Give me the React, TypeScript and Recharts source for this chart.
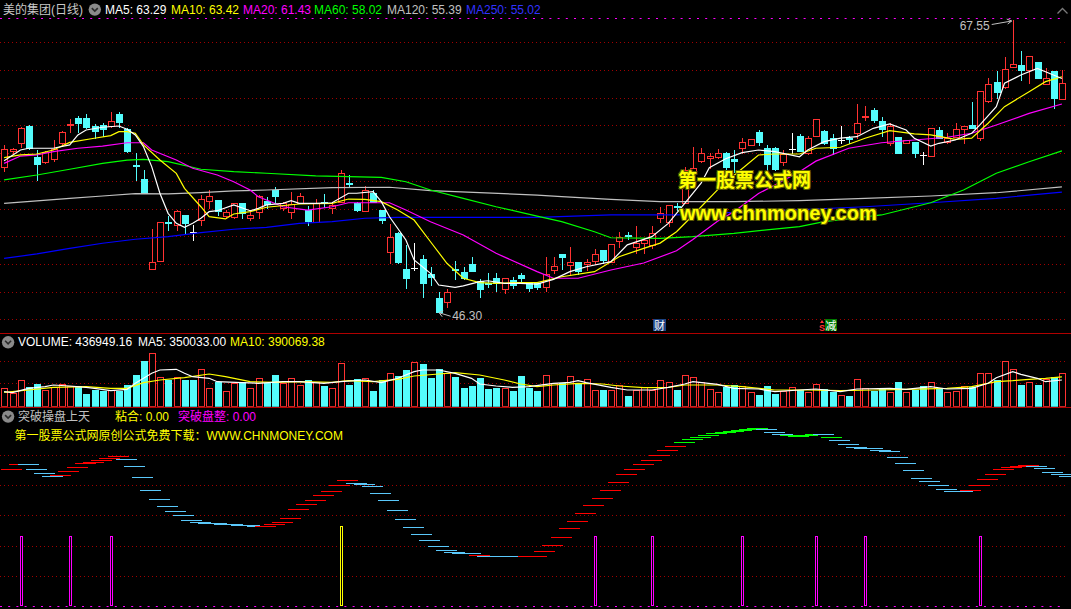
import React from 'react';
import { ComposedChart, Bar, Line, XAxis, YAxis, CartesianGrid } from 'recharts';

const RED = '#ff3232';
const CYAN = '#54fcfc';
const GRID = '#a00000';
const FONT = '"Liberation Sans", "Noto Sans CJK SC", sans-serif';

// ---------------- price candles (daily) ----------------
const opens = [
  56.82, 58.01, 58.57, 59.86, 57.59, 57.23, 57.40, 58.61, 59.93, 60.42,
  60.42, 59.86, 59.91, 59.83, 60.71, 59.60, 56.99, 55.95, 49.39, 50.02,
  52.83, 52.62, 53.35, 52.09, 52.98, 54.39, 54.44, 53.30, 53.19, 54.20,
  53.15, 53.59, 54.37, 55.17, 53.83, 53.54, 54.24, 53.71, 52.86, 54.29,
  53.83, 54.32, 55.68, 54.24, 53.66, 54.97, 53.71, 50.63, 52.06, 49.41,
  49.46, 50.14, 49.05, 47.28, 47.03, 49.38, 49.17, 49.76, 48.56, 48.36,
  48.74, 47.94, 48.61, 48.98, 48.37, 48.37, 48.08, 49.34, 50.49, 49.71,
  49.95, 49.78, 50.00, 50.78, 49.90, 51.48, 51.89, 51.04, 51.33, 51.17,
  53.11, 52.81, 53.98, 54.20, 56.39, 57.30, 57.47, 57.59, 57.84, 57.39,
  58.25, 58.43, 59.42, 58.25, 58.21, 57.18, 58.13, 59.10, 57.84, 59.13,
  59.49, 58.98, 58.81, 58.96, 59.30, 60.46, 61.00, 60.22, 58.57, 59.01,
  58.57, 58.64, 57.72, 57.67, 59.54, 58.64, 59.05, 59.59, 59.91, 58.94,
  61.67, 63.01, 62.69, 64.11, 64.27, 63.91, 64.47, 62.89, 63.84, 61.77,
];
const highs = [
  58.45, 58.25, 59.78, 59.93, 58.08, 58.01, 58.81, 59.47, 60.34, 60.56,
  60.71, 59.96, 60.02, 60.83, 60.83, 59.69, 57.84, 56.63, 52.31, 52.84,
  53.27, 53.71, 53.35, 52.62, 54.80, 55.17, 54.44, 53.71, 54.25, 54.20,
  53.66, 54.80, 54.68, 55.37, 54.32, 55.05, 54.93, 54.00, 54.49, 54.88,
  54.20, 56.63, 56.26, 54.32, 55.46, 55.17, 53.71, 52.69, 52.13, 51.16,
  51.31, 50.43, 49.54, 47.76, 47.94, 50.00, 49.54, 50.27, 48.68, 49.11,
  49.11, 48.74, 48.81, 49.15, 48.37, 48.39, 50.27, 50.27, 50.49, 51.00,
  49.95, 50.12, 50.85, 50.78, 51.24, 52.14, 52.14, 52.53, 51.70, 52.54,
  53.90, 54.05, 54.24, 56.82, 58.28, 58.21, 57.84, 58.13, 57.96, 58.08,
  58.98, 58.88, 59.54, 58.45, 58.33, 58.08, 59.33, 59.25, 59.10, 60.32,
  59.54, 59.25, 59.83, 59.10, 61.41, 61.29, 61.12, 60.51, 60.03, 59.01,
  58.81, 58.64, 57.96, 59.66, 59.78, 59.30, 60.03, 59.83, 61.60, 62.38,
  63.30, 63.84, 64.88, 67.55, 65.29, 64.93, 64.47, 64.03, 63.84, 63.91,
];
const lows = [
  56.58, 57.84, 58.32, 58.13, 55.90, 57.11, 57.30, 58.37, 59.42, 59.39,
  59.67, 58.94, 59.13, 59.74, 59.78, 57.91, 55.90, 54.93, 49.39, 50.02,
  52.26, 52.26, 52.06, 51.53, 52.62, 53.83, 53.35, 53.11, 53.11, 53.15,
  52.98, 53.11, 53.83, 54.32, 53.71, 53.11, 54.20, 52.62, 52.86, 53.95,
  53.47, 54.32, 55.41, 53.66, 53.66, 54.32, 52.74, 49.88, 49.88, 48.03,
  49.34, 47.36, 48.27, 46.30, 46.67, 48.66, 48.66, 49.27, 47.36, 48.12,
  47.84, 47.64, 48.01, 48.56, 47.84, 47.94, 47.81, 49.15, 49.41, 48.98,
  49.05, 49.34, 49.78, 49.83, 49.90, 51.04, 51.60, 50.60, 50.60, 50.93,
  52.86, 52.54, 53.71, 54.20, 56.14, 57.23, 56.75, 57.47, 56.63, 56.50,
  57.84, 58.43, 58.45, 56.63, 56.63, 56.99, 57.84, 58.01, 57.79, 59.13,
  58.52, 57.79, 58.61, 58.57, 58.94, 60.27, 60.14, 59.10, 58.45, 57.89,
  58.57, 57.59, 57.06, 57.67, 58.94, 58.57, 59.01, 58.61, 59.66, 58.81,
  61.60, 61.85, 62.58, 64.11, 63.18, 62.98, 63.30, 62.89, 61.12, 61.77,
];
const closes = [
  58.13, 58.12, 59.67, 58.21, 57.06, 57.91, 58.13, 59.39, 59.98, 60.07,
  59.78, 59.47, 59.60, 60.18, 60.15, 58.03, 56.92, 54.93, 49.95, 52.84,
  52.78, 53.64, 52.74, 52.09, 54.51, 54.73, 53.66, 53.57, 54.20, 53.47,
  53.35, 54.73, 54.15, 54.76, 54.24, 54.13, 54.73, 52.93, 54.20, 54.20,
  54.08, 56.39, 55.61, 53.71, 55.17, 54.32, 52.98, 51.73, 49.95, 48.78,
  49.46, 48.42, 48.85, 46.30, 47.72, 49.31, 48.78, 49.27, 47.94, 48.29,
  48.42, 48.74, 48.25, 48.78, 48.05, 48.12, 49.03, 49.65, 50.31, 49.95,
  49.27, 49.90, 50.49, 50.07, 51.24, 51.77, 51.82, 51.29, 51.53, 52.06,
  53.51, 54.05, 53.93, 56.63, 56.75, 57.84, 57.64, 57.84, 56.82, 57.31,
  58.64, 58.88, 58.64, 57.04, 56.70, 57.79, 58.13, 58.01, 58.94, 60.32,
  58.57, 58.21, 58.81, 58.91, 60.03, 60.54, 60.27, 59.59, 59.86, 57.89,
  58.81, 57.84, 57.72, 59.66, 58.94, 58.98, 59.59, 59.83, 59.66, 62.38,
  62.87, 62.33, 63.96, 64.35, 63.91, 64.93, 63.30, 63.30, 61.85, 62.94,
];

// ---------------- moving averages: [candle index, value] ----------------
const ma5Pts: [number, number][] = [
  [0, 57.30], [2, 58.08], [3, 58.21], [6, 58.21], [8, 58.45], [9, 59.18], [10, 59.54], [12, 59.74], [14, 59.83], [15, 59.59],
  [16, 59.18], [17, 58.32], [18, 56.87], [19, 54.93], [20, 53.47], [21, 52.74], [22, 52.45], [23, 52.74], [24, 53.11], [25, 53.59],
  [26, 53.66], [28, 54.08], [30, 53.66], [31, 53.83], [32, 54.08], [34, 54.20], [35, 54.39], [36, 54.20], [38, 54.20], [40, 54.24],
  [42, 54.93], [43, 54.93], [45, 55.05], [46, 54.32], [47, 53.22], [49, 51.53], [50, 50.07], [52, 49.10], [53, 48.25], [55, 48.08],
  [56, 48.18], [58, 48.49], [59, 48.56], [61, 48.37], [63, 48.37], [65, 48.32], [67, 48.66], [69, 49.22], [71, 49.58], [74, 49.95],
  [76, 51.17], [79, 51.77], [81, 52.74], [83, 54.20], [85, 55.66], [86, 56.80], [88, 57.45], [90, 57.89], [92, 58.08], [94, 57.96],
  [97, 57.59], [98, 58.08], [100, 58.69], [102, 58.94], [104, 59.05], [106, 59.66], [108, 59.98], [110, 59.54], [111, 58.94], [113, 58.37],
  [114, 58.57], [116, 58.81], [118, 59.30], [119, 59.91], [121, 61.24], [122, 62.94], [124, 63.54], [126, 64.03], [127, 63.78], [129, 63.29],
];
const ma10Pts: [number, number][] = [
  [0, 57.52], [2, 57.72], [4, 57.79], [6, 58.08], [8, 58.64], [11, 58.94], [13, 59.13], [14, 59.42], [15, 59.42], [16, 59.30],
  [17, 58.45], [19, 57.35], [21, 56.38], [22, 55.29], [24, 53.95], [25, 53.23], [27, 53.06], [28, 53.42], [30, 53.59], [32, 53.91],
  [36, 54.15], [40, 54.20], [42, 54.51], [44, 54.49], [46, 54.32], [48, 53.71], [50, 52.98], [52, 51.40], [54, 49.83], [56, 48.74],
  [58, 48.42], [60, 48.37], [62, 48.42], [65, 48.42], [68, 48.85], [72, 49.22], [75, 50.31], [78, 50.92], [80, 51.30], [82, 52.13],
  [84, 53.33], [87, 55.18], [89, 56.23], [92, 57.72], [94, 57.79], [97, 57.79], [99, 58.21], [102, 58.28], [105, 58.94], [108, 59.49],
  [111, 59.25], [113, 59.18], [116, 58.86], [118, 58.94], [120, 60.03], [122, 61.24], [125, 62.33], [127, 63.06], [129, 63.42],
];
const ma20Pts: [number, number][] = [
  [0, 57.11], [2, 57.64], [4, 57.72], [6, 57.96], [9, 58.21], [12, 58.37], [15, 58.61], [17, 58.61], [18, 58.08], [21, 57.35],
  [23, 56.75], [26, 56.26], [28, 55.77], [30, 55.17], [31, 54.68], [32, 54.44], [34, 53.95], [37, 53.71], [40, 53.95], [42, 54.24],
  [47, 54.24], [49, 53.71], [52, 52.86], [56, 51.89], [60, 50.56], [65, 49.22], [67, 48.74], [70, 48.74], [74, 49.34], [78, 49.85],
  [82, 50.74], [84, 51.57], [87, 52.89], [89, 53.59], [92, 54.91], [94, 55.53], [97, 56.49], [99, 57.27], [103, 58.21], [107, 58.61],
  [111, 58.81], [115, 59.01], [118, 59.30], [121, 59.90], [125, 60.75], [129, 61.43],
];
const ma60Pts: [number, number][] = [
  [0, 55.90], [4, 56.26], [8, 56.68], [12, 57.11], [15, 57.35], [17, 57.40], [20, 57.23], [24, 56.68], [28, 56.50], [32, 56.39],
  [38, 56.19], [46, 56.09], [49, 55.77], [52, 55.17], [56, 54.56], [60, 53.95], [65, 53.27], [68, 52.86], [72, 52.13], [74, 51.69],
  [80, 51.65], [84, 51.77], [89, 52.01], [93, 52.26], [97, 52.50], [100, 52.86], [107, 53.35], [113, 54.24], [117, 55.17], [121, 56.39],
  [125, 57.23], [129, 58.02],
];
const ma120Pts: [number, number][] = [
  [0, 54.20], [4, 54.37], [8, 54.56], [12, 54.73], [16, 54.90], [20, 54.88], [24, 54.97], [28, 55.10], [32, 55.17], [40, 55.34],
  [47, 55.37], [52, 55.12], [58, 54.97], [65, 54.80], [68, 54.68], [74, 54.49], [80, 54.32], [89, 54.32], [97, 54.39], [105, 54.56],
  [113, 54.73], [121, 54.97], [129, 55.39],
];
const ma250Pts: [number, number][] = [
  [0, 50.19], [4, 50.51], [8, 50.92], [12, 51.29], [16, 51.58], [20, 51.77], [24, 52.06], [28, 52.31], [32, 52.45], [36, 52.74],
  [40, 52.86], [44, 53.11], [48, 53.18], [65, 53.18], [74, 53.35], [82, 53.35], [96, 53.71], [105, 53.95], [113, 54.24], [121, 54.56],
  [129, 55.02],
];

// ---------------- volume ----------------
const volumes = [
  241000, 175500, 349800, 262000, 297400, 218800, 254100, 297400, 275100, 275100,
  166400, 218800, 205700, 218800, 205700, 284300, 415300, 598700, 699500, 393000,
  349800, 393000, 349800, 349800, 489900, 241000, 327500, 209600, 314400, 327500,
  241000, 372000, 306500, 415300, 306500, 379900, 284300, 349800, 319600, 275100,
  241000, 568500, 284300, 358900, 372000, 205700, 349800, 445400, 402200, 480800,
  581600, 559400, 372000, 489900, 445400, 393000, 241000, 271200, 372000, 231900,
  241000, 241000, 205700, 402200, 245000, 200000, 415300, 306500, 306500, 402200,
  297400, 358900, 218800, 218800, 218800, 284300, 140200, 218800, 254100, 218800,
  349800, 327500, 218800, 415300, 385100, 327500, 227900, 188600, 254100, 284300,
  271200, 188600, 153300, 271200, 166400, 205700, 254100, 218800, 196500, 297400,
  227900, 196500, 153300, 140200, 358900, 241000, 205700, 227900, 196500, 327500,
  196500, 218800, 271200, 319600, 241000, 196500, 205700, 271200, 262000, 437500,
  437500, 349800, 598700, 489900, 284300, 319600, 284300, 358900, 385100, 436949.16,
];
const volRed = [
  1, 1, 1, 0, 0, 1, 1, 1, 1, 0,
  0, 0, 0, 1, 0, 0, 0, 0, 1, 1,
  0, 1, 0, 0, 1, 1, 0, 1, 1, 0,
  1, 1, 0, 0, 1, 1, 1, 0, 1, 0,
  1, 1, 0, 0, 1, 0, 0, 1, 0, 0,
  1, 0, 0, 0, 1, 0, 0, 0, 0, 0,
  0, 1, 0, 0, 0, 0, 1, 1, 0, 1,
  0, 1, 1, 0, 1, 1, 0, 1, 1, 1,
  1, 1, 0, 1, 1, 1, 1, 1, 0, 0,
  1, 1, 0, 0, 0, 1, 1, 0, 1, 1,
  0, 0, 1, 0, 1, 1, 0, 0, 1, 0,
  1, 0, 0, 1, 0, 1, 1, 1, 0, 1,
  1, 0, 1, 1, 0, 1, 0, 1, 0, 1,
];
const vma5Pts: [number, number][] = [
  [0, 196500], [1, 183400], [3, 241000], [5, 262000], [6, 284300], [8, 271200], [10, 254100], [11, 241000], [13, 209600], [15, 227900],
  [16, 306500], [18, 437500], [19, 480800], [21, 489900], [22, 437500], [23, 393000], [25, 372000], [26, 327500], [29, 314400], [31, 306500],
  [34, 327500], [36, 327500], [39, 306500], [41, 327500], [44, 349800], [46, 314400], [48, 372000], [50, 458500], [51, 480800], [53, 480800],
  [55, 437500], [57, 372000], [58, 297400], [60, 271200], [62, 254100], [64, 262000], [67, 306500], [69, 319600], [70, 340600], [71, 314400],
  [74, 254100], [76, 218800], [79, 218800], [81, 254100], [83, 297400], [84, 327500], [87, 293400], [89, 241000], [92, 231900], [94, 196500],
  [97, 218800], [99, 231900], [102, 196500], [104, 231900], [108, 241000], [110, 227900], [113, 262000], [115, 231900], [118, 241000], [120, 306500],
  [121, 379900], [123, 458500], [124, 424400], [126, 372000], [127, 327500], [129, 350033],
];
const vma10Pts: [number, number][] = [
  [0, 188600], [3, 218800], [6, 254100], [10, 262000], [13, 241000], [15, 241000], [17, 314400], [19, 349800], [22, 379900], [25, 428400],
  [27, 393000], [30, 327500], [33, 319600], [36, 327500], [40, 319600], [42, 340600], [45, 327500], [48, 358900], [50, 402200], [53, 428400],
  [55, 445400], [58, 415300], [61, 349800], [63, 297400], [65, 262000], [67, 284300], [70, 306500], [73, 297400], [75, 271200], [78, 248900],
  [81, 254100], [83, 284300], [87, 284300], [90, 262000], [94, 218800], [98, 218800], [102, 209600], [106, 218800], [110, 227900], [115, 241000],
  [118, 262000], [121, 327500], [123, 340600], [125, 358900], [127, 372000], [129, 390069],
];

// ---------------- indicator 突破操盘上天 ----------------
const indValues = [
  137.3, 142.0, 142.0, 137.0, 133.0, 130.0, 131.0, 135.0, 139.0, 143.0,
  144.0, 146.0, 148.3, 150.0, 147.3, 140.0, 129.0, 116.0, 107.0, 100.3,
  95.0, 91.0, 86.0, 84.0, 83.6, 83.3, 82.6, 82.0, 81.6, 81.0,
  80.3, 80.6, 82.0, 84.6, 88.6, 97.0, 102.0, 106.0, 111.0, 115.0,
  121.0, 126.0, 123.6, 122.6, 120.3, 113.0, 106.0, 96.0, 87.0, 79.0,
  72.0, 66.0, 60.0, 56.0, 54.3, 53.6, 53.0, 51.6, 50.6, 50.0,
  50.0, 50.0, 50.0, 50.3, 50.3, 55.3, 61.0, 69.0, 78.0, 85.0,
  93.0, 101.0, 108.0, 116.0, 124.0, 132.0, 137.0, 142.0, 146.0, 151.0,
  156.0, 160.0, 164.0, 167.0, 169.0, 171.0, 173.0, 174.0, 175.3, 176.0,
  177.6, 178.6, 177.0, 174.0, 172.0, 171.3, 170.3, 171.3, 172.6, 172.0,
  169.0, 166.0, 162.0, 159.0, 158.3, 158.0, 156.0, 155.0, 149.0, 143.0,
  136.0, 128.0, 125.0, 121.0, 117.0, 115.0, 115.3, 116.0, 121.0, 127.0,
  132.0, 137.0, 139.0, 140.0, 141.0, 140.0, 138.0, 134.0, 132.0, 130.3,
];
const indColorCodes =
  'rrbbbbrrrrrrrrb' + 'bbbbbbbbbbbbbbbb' + 'rrrrrrrrrrr' + 'bbbbbbbbbbbbbbb' + 'r' + 'bbbbb' +
  'rrrrrrrrrrrrrrrrrrr' + 'gggggggggg' + 'bbb' + 'gggg' + 'b' + 'g' + 'bbbbbbbbbbbbbbbb' + 'rrrrrrrr' + 'bbbbb';
const SEG_COLORS: Record<string, string> = { r: '#ff0000', b: '#5ac8fa', g: '#00ff00' };
const stickIdx = [2, 8, 13, 41, 72, 79, 90, 99, 105, 119];
const stickHeights = [70, 70, 70, 80, 70, 70, 70, 70, 70, 70];
const stickColors = ['#ff00ff', '#ff00ff', '#ff00ff', '#ffff00', '#ff00ff', '#ff00ff', '#ff00ff', '#ff00ff', '#ff00ff', '#ff00ff'];

// ---------------- event marks ----------------
const eventIdx = [80, 100];
const eventKinds = ['财', '减'];
const hiIdx = 123;
const loIdx = 53;

const PRICE_DOMAIN: [number, number] = [44.753, 67.696];
const VOL_DOMAIN: [number, number] = [0, 786000];
const IND_DOMAIN: [number, number] = [0, 199.3];

const spread = (pts: [number, number][]) => {
  const a: (number | null)[] = new Array(opens.length).fill(null);
  pts.forEach(([i, v]) => { a[i] = v; });
  return a;
};
const m5 = spread(ma5Pts), m10 = spread(ma10Pts), m20 = spread(ma20Pts), m60 = spread(ma60Pts),
  m120 = spread(ma120Pts), m250 = spread(ma250Pts), v5 = spread(vma5Pts), v10 = spread(vma10Pts);

const rows = opens.map((o, i) => {
  const si = stickIdx.indexOf(i);
  const ei = eventIdx.indexOf(i);
  return {
    i, open: o, high: highs[i], low: lows[i], close: closes[i],
    ma5: m5[i], ma10: m10[i], ma20: m20[i], ma60: m60[i], ma120: m120[i], ma250: m250[i],
    vol: volumes[i], volRed: volRed[i], vma5: v5[i], vma10: v10[i],
    ind: indValues[i], indColor: indColorCodes[i],
    stick: si >= 0 ? stickHeights[si] : null, stickColor: si >= 0 ? stickColors[si] : null,
    evt: ei >= 0 ? PRICE_DOMAIN[0] : null, evtKind: ei >= 0 ? eventKinds[ei] : null,
    hiMark: i === hiIdx ? highs[i] : null,
    loMark: i === loIdx ? lows[i] : null,
  };
});

// ---------------- shapes ----------------
function Candle(props: any) {
  const { x, y, width, height, payload } = props;
  if (!payload || y == null || height == null) return <g />;
  const { open, close, high, low } = payload;
  const c = Math.round(x + width / 2);
  const k = height / Math.max(high - low, 1e-6);
  const py = (v: number) => Math.round(y + (high - v) * k);
  const yH = py(high), yL = py(low), yO = py(open), yC = py(close);
  const wx = c + 0.5;
  if (open === close) {
    return (
      <g shapeRendering="crispEdges">
        <line x1={wx} x2={wx} y1={yH} y2={yL + 1} stroke="#ffffff" />
        <line x1={c - 3} x2={c + 4} y1={yO + 0.5} y2={yO + 0.5} stroke="#ffffff" />
      </g>
    );
  }
  if (close > open) {
    const top = yC;
    const bh = Math.max(yO - yC, 1);
    return (
      <g shapeRendering="crispEdges">
        {yH < top && <line x1={wx} x2={wx} y1={yH} y2={top} stroke={RED} />}
        {yL > top + bh && <line x1={wx} x2={wx} y1={top + bh + 1} y2={yL + 1} stroke={RED} />}
        <rect x={c - 2.5} y={top + 0.5} width={6} height={bh} fill="#000" stroke={RED} />
      </g>
    );
  }
  const top = yO;
  const bh = Math.max(yC - yO, 1);
  return (
    <g shapeRendering="crispEdges">
      <line x1={wx} x2={wx} y1={yH} y2={yL + 1} stroke={CYAN} />
      <rect x={c - 3} y={top} width={7} height={bh + 1} fill={CYAN} />
    </g>
  );
}

function VolBar(props: any) {
  const { x, y, width, height, payload } = props;
  if (!payload || y == null || height == null) return <g />;
  const c = Math.round(x + width / 2);
  const top = Math.round(y);
  const bot = Math.round(y + height);
  if (payload.volRed) {
    return <rect shapeRendering="crispEdges" x={c - 2.5} y={top + 0.5} width={6} height={Math.max(bot - top - 1, 1)} fill="#000" stroke={RED} />;
  }
  return <rect shapeRendering="crispEdges" x={c - 3} y={top} width={7} height={Math.max(bot - top, 1)} fill={CYAN} />;
}

function Stick(props: any) {
  const { x, y, width, height, payload } = props;
  if (!payload || payload.stick == null || y == null) return <g />;
  const c = Math.round(x + width / 2);
  return (
    <rect shapeRendering="crispEdges" x={c - 0.5} y={Math.round(y) + 0.5} width={2}
      height={Math.max(Math.round(height) - 1, 1)} fill="none" stroke={payload.stickColor} />
  );
}

const segDot = (p: any) => {
  const { cx, cy, payload, index } = p;
  if (cy == null || !isFinite(cy)) return <g key={`s${index}`} />;
  const c = Math.round(cx);
  const yy = Math.round(cy) + 0.5;
  return (
    <line key={`s${index}`} shapeRendering="crispEdges" x1={c - 3} x2={c + 18} y1={yy} y2={yy}
      stroke={SEG_COLORS[payload.indColor]} strokeWidth={1} />
  );
};

const hiDot = (p: any) => {
  const { cx, cy, payload, index } = p;
  if (cy == null || payload.hiMark == null) return <g key={`h${index}`} />;
  const x1 = cx - 21, y1 = cy + 4.5, x2 = cx - 1, y2 = cy + 1;
  return (
    <g key={`h${index}`}>
      <line x1={x1} y1={y1} x2={x2} y2={y2} stroke="#c0c0c0" />
      <polyline points={`${x2 - 5},${y2 - 2} ${x2},${y2} ${x2 - 4},${y2 + 3}`} fill="none" stroke="#c0c0c0" />
      <text x={x1 - 2} y={cy + 9.5} textAnchor="end" fill="#c0c0c0" fontSize={12} fontFamily={FONT}>
        {payload.hiMark.toFixed(2)}
      </text>
    </g>
  );
};

const loDot = (p: any) => {
  const { cx, cy, payload, index } = p;
  if (cy == null || payload.loMark == null) return <g key={`l${index}`} />;
  const x1 = cx + 0.5, y1 = cy + 1, x2 = cx + 12, y2 = cy + 4.5;
  return (
    <g key={`l${index}`}>
      <line x1={x1} y1={y1} x2={x2} y2={y2} stroke="#c0c0c0" />
      <polyline points={`${x1 + 4},${y1 - 2} ${x1},${y1} ${x1 + 3},${y1 + 4}`} fill="none" stroke="#c0c0c0" />
      <text x={x2 + 1.5} y={cy + 8.5} textAnchor="start" fill="#c0c0c0" fontSize={12} fontFamily={FONT}>
        {payload.loMark.toFixed(2)}
      </text>
    </g>
  );
};

const evtDot = (p: any) => {
  const { cx, cy, payload, index } = p;
  if (cy == null || payload.evtKind == null) return <g key={`e${index}`} />;
  const c = Math.round(cx);
  const top = Math.round(cy) - 14;
  if (payload.evtKind === '财') {
    return (
      <g key={`e${index}`}>
        <rect x={c - 7} y={top} width={13} height={12} fill="#1d4383" />
        <text x={c - 0.5} y={top + 10.5} textAnchor="middle" fill="#ffffff" fontSize={11}
          fontFamily='"Noto Sans CJK SC", sans-serif'>{payload.evtKind}</text>
      </g>
    );
  }
  return (
    <g key={`e${index}`}>
      <polygon points={`${c - 4},${top + 4} ${c - 2},${top + 1} ${c},${top + 4}`} fill={RED} />
      <text x={c - 2} y={top + 12} textAnchor="middle" fill={RED} fontSize={9} fontWeight={700} fontFamily={FONT}>S</text>
      <rect x={c + 1} y={top} width={12} height={12} fill="#007a00" />
      <text x={c + 7} y={top + 10.5} textAnchor="middle" fill="#ffffff" fontSize={11}
        fontFamily='"Noto Sans CJK SC", sans-serif'>{payload.evtKind}</text>
    </g>
  );
};

const priceGrid = Array.from({ length: 11 }, (_, k) => Math.round(42.3 + 27.7 * k) + 0.5);
const volGrid = [28.5, 50.5];
const indGrid = [48.5, 78.5, 108.5, 139.5, 169.5];

const Txt = ({ x, y, color, children, size = 12 }: any) => (
  <span style={{ position: 'absolute', left: x, top: y, color, fontSize: size, lineHeight: '14px', whiteSpace: 'nowrap', fontFamily: FONT }}>
    {children}
  </span>
);

const Circle = ({ cx, cy }: any) => (
  <g>
    <circle cx={cx} cy={cy} r={6.2} fill="#8a8a8a" />
    <polyline points={`${cx - 3},${cy - 1.5} ${cx},${cy + 1.5} ${cx + 3},${cy - 1.5}`} fill="none" stroke="#2a2a2a" strokeWidth={1.6} />
  </g>
);

export default function App() {
  return (
    <div style={{ position: 'absolute', left: 0, top: 0, width: 1071, height: 609, background: '#000', overflow: 'hidden', fontFamily: FONT }}>
      {/* price panel */}
      <div style={{ position: 'absolute', left: 0, top: 0 }}>
        <ComposedChart width={1071} height={333} data={rows} margin={{ top: 18, right: 5, bottom: 0, left: 0 }}>
          <CartesianGrid vertical={false} horizontalPoints={priceGrid} stroke={GRID} strokeDasharray="1 3" />
          <XAxis dataKey="i" hide />
          <YAxis hide domain={PRICE_DOMAIN} allowDataOverflow type="number" />
          <Line dataKey="ma250" stroke="#0000ff" strokeWidth={1.2} dot={false} activeDot={false} connectNulls isAnimationActive={false} />
          <Line dataKey="ma120" stroke="#c0c0c0" strokeWidth={1.2} dot={false} activeDot={false} connectNulls isAnimationActive={false} />
          <Line dataKey="ma60" stroke="#00ff00" strokeWidth={1.2} dot={false} activeDot={false} connectNulls isAnimationActive={false} />
          <Bar dataKey={(d: any) => [d.low, d.high]} shape={<Candle />} isAnimationActive={false} />
          <Line dataKey="ma20" stroke="#ff00ff" strokeWidth={1.2} dot={false} activeDot={false} connectNulls isAnimationActive={false} />
          <Line dataKey="ma10" stroke="#ffff00" strokeWidth={1.2} dot={false} activeDot={false} connectNulls isAnimationActive={false} />
          <Line dataKey="ma5" stroke="#ffffff" strokeWidth={1.2} dot={false} activeDot={false} connectNulls isAnimationActive={false} />
          <Line dataKey="hiMark" stroke="none" dot={hiDot} activeDot={false} isAnimationActive={false} />
          <Line dataKey="loMark" stroke="none" dot={loDot} activeDot={false} isAnimationActive={false} />
          <Line dataKey="evt" stroke="none" dot={evtDot} activeDot={false} isAnimationActive={false} />
        </ComposedChart>
      </div>

      {/* volume panel */}
      <div style={{ position: 'absolute', left: 0, top: 333 }}>
        <ComposedChart width={1071} height={76} data={rows} margin={{ top: 13.7, right: 5, bottom: 2.3, left: 0 }}>
          <CartesianGrid vertical={false} horizontalPoints={volGrid} stroke={GRID} strokeDasharray="1 3" />
          <XAxis dataKey="i" hide />
          <YAxis hide domain={VOL_DOMAIN} allowDataOverflow type="number" />
          <Bar dataKey="vol" shape={<VolBar />} isAnimationActive={false} />
          <Line dataKey="vma10" stroke="#ffff00" strokeWidth={1.2} dot={false} activeDot={false} connectNulls isAnimationActive={false} />
          <Line dataKey="vma5" stroke="#ffffff" strokeWidth={1.2} dot={false} activeDot={false} connectNulls isAnimationActive={false} />
        </ComposedChart>
      </div>

      {/* indicator panel */}
      <div style={{ position: 'absolute', left: 0, top: 407 }}>
        <ComposedChart width={1071} height={202} data={rows} margin={{ top: 0, right: 5, bottom: 2.7, left: 0 }}>
          <CartesianGrid vertical={false} horizontalPoints={indGrid} stroke={GRID} strokeDasharray="1 3" />
          <XAxis dataKey="i" hide />
          <YAxis hide domain={IND_DOMAIN} allowDataOverflow type="number" />
          <Bar dataKey="stick" shape={<Stick />} isAnimationActive={false} />
          <Line dataKey="ind" stroke="none" dot={segDot} activeDot={false} isAnimationActive={false} />
        </ComposedChart>
      </div>

      {/* frame decorations */}
      <svg width={1071} height={609} style={{ position: 'absolute', left: 0, top: 0, pointerEvents: 'none' }}>
        <line x1={0} x2={1066} y1={18.5} y2={18.5} stroke="#ff00ff" strokeDasharray="2 6.2" />
        <line x1={0} x2={1066} y1={606.5} y2={606.5} stroke="#ff00ff" strokeDasharray="2 6.2" />
        <line x1={0} x2={1071} y1={333.5} y2={333.5} stroke="#b00000" />
        <line x1={0} x2={1071} y1={407.5} y2={407.5} stroke="#b00000" />
        <Circle cx={94.8} cy={9.6} />
        <Circle cx={8.1} cy={342.3} />
        <Circle cx={8.1} cy={416.6} />
        <polyline points="1057.5,13.5 1062.5,8.5 1067.5,13.5" fill="none" stroke="#7a7a7a" strokeWidth={1.3} />
      </svg>

      {/* watermark */}
      <div style={{ position: 'absolute', left: 678, top: 166, fontSize: 19, fontWeight: 700, color: '#ffff00', lineHeight: '26px',
        fontFamily: '"Noto Sans CJK SC", sans-serif', whiteSpace: 'nowrap',
        textShadow: '1px 1px 0 #5a5a00, -1px -1px 0 #5a5a00, 1px -1px 0 #5a5a00, -1px 1px 0 #5a5a00' }}>第一股票公式网</div>
      <div style={{ position: 'absolute', left: 680, top: 200, fontSize: 20, fontWeight: 700, color: '#ffff00', lineHeight: '26px',
        fontFamily: '"Liberation Sans", sans-serif', whiteSpace: 'nowrap',
        textShadow: '1px 1px 0 #5a5a00, -1px -1px 0 #5a5a00, 1px -1px 0 #5a5a00, -1px 1px 0 #5a5a00' }}>www.chnmoney.com</div>

      {/* headers */}
      <Txt x={3} y={3} color="#c8c8c8">美的集团(日线)</Txt>
      <Txt x={105} y={3} color="#ffffff">MA5: 63.29</Txt>
      <Txt x={171} y={3} color="#ffff00">MA10: 63.42</Txt>
      <Txt x={243} y={3} color="#ff00ff">MA20: 61.43</Txt>
      <Txt x={314} y={3} color="#00ff00">MA60: 58.02</Txt>
      <Txt x={387} y={3} color="#c0c0c0">MA120: 55.39</Txt>
      <Txt x={466} y={3} color="#3232ff">MA250: 55.02</Txt>

      <Txt x={18} y={335} color="#ffffff">VOLUME: 436949.16</Txt>
      <Txt x={138} y={335} color="#ffffff">MA5: 350033.00</Txt>
      <Txt x={230} y={335} color="#ffff00">MA10: 390069.38</Txt>

      <Txt x={18} y={409.5} color="#c0c0c0">突破操盘上天</Txt>
      <Txt x={115} y={409.5} color="#ffff00">粘合: 0.00</Txt>
      <Txt x={178} y={409.5} color="#ff00ff">突破盘整: 0.00</Txt>
      <Txt x={14.5} y={429} color="#ffff00">第一股票公式网原创公式免费下载：WWW.CHNMONEY.COM</Txt>
    </div>
  );
}
